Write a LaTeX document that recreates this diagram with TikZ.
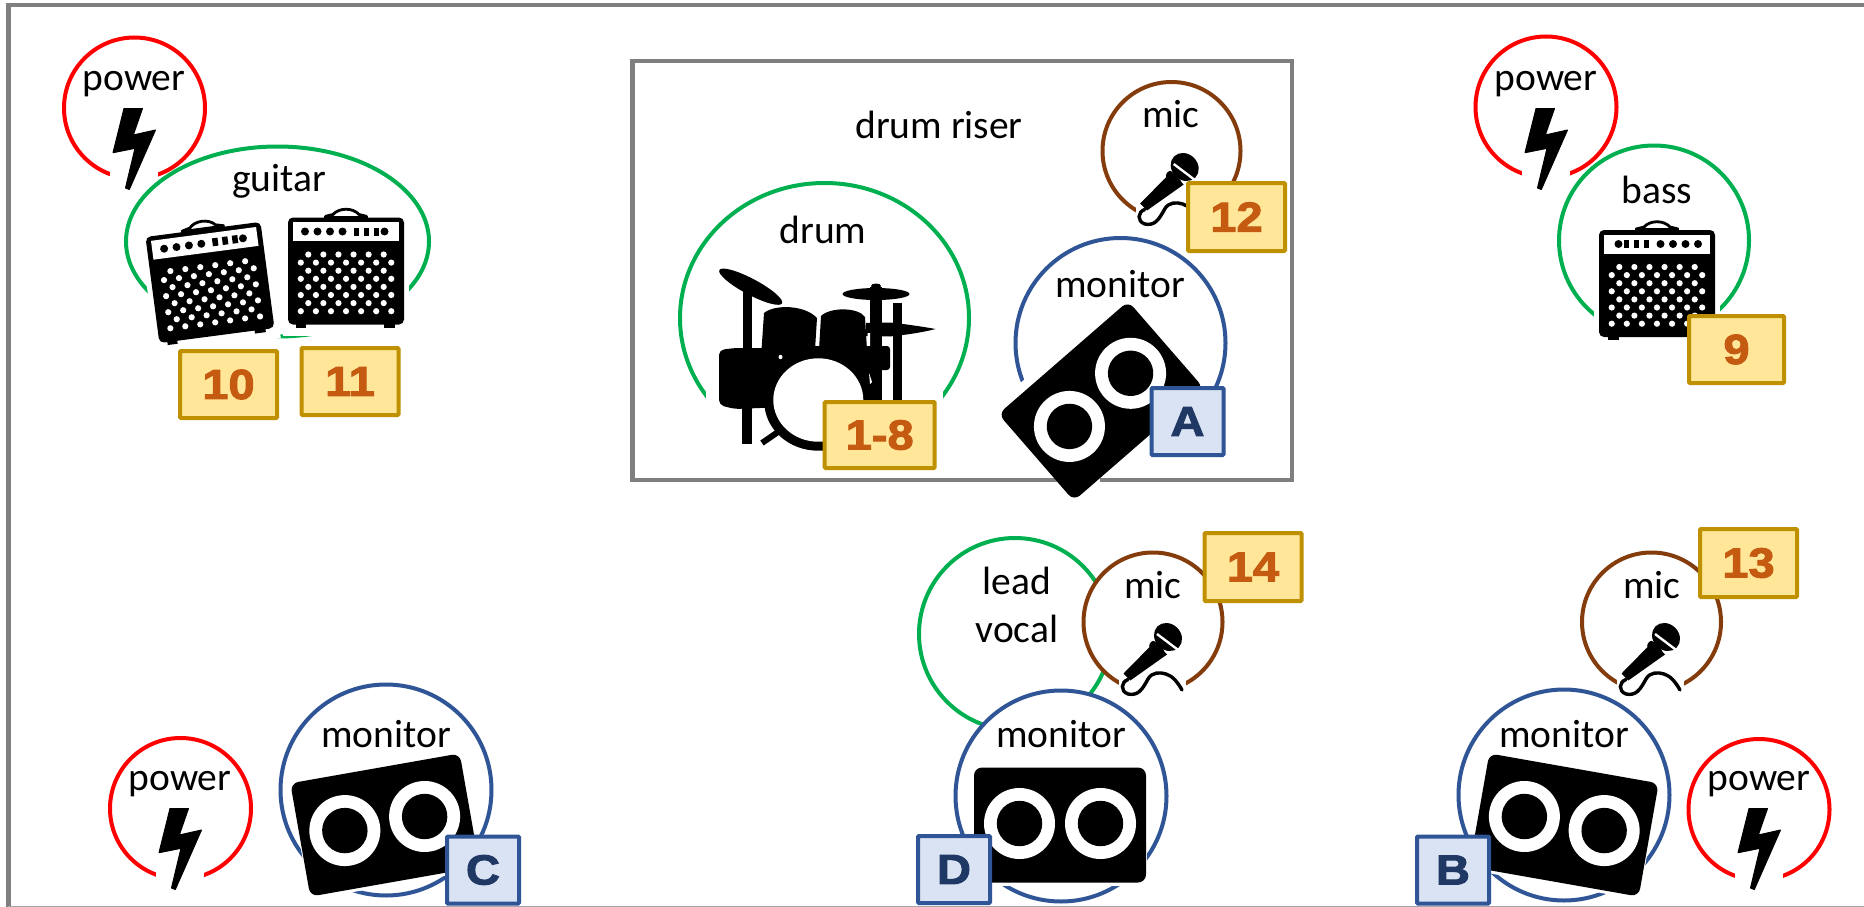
\documentclass[tikz,border=0pt]{standalone}
\usepackage{fontspec}
\setmainfont{Carlito}
\newfontfamily\badgefont[BoldFeatures={FakeBold=2.4,FakeStretch=1.12}]{Liberation Sans}
\definecolor{ggreen}{HTML}{00B050}
\definecolor{gred}{HTML}{FF0000}
\definecolor{gbrown}{HTML}{843C0C}
\definecolor{gblue}{HTML}{2F5597}
\definecolor{gframe}{HTML}{7F7F7F}
\definecolor{yfill}{HTML}{FFE699}
\definecolor{yline}{HTML}{BF9000}
\definecolor{ytext}{HTML}{C55A11}
\definecolor{bfill}{HTML}{DAE3F3}
\definecolor{btext}{HTML}{203864}
\tikzset{
  x=1pt,y=-1pt,
  lab/.style={anchor=base,inner sep=0pt,font=\fontsize{39.5}{47}\selectfont,text=black},
  ringg/.style={draw=ggreen,line width=4pt},
  ringr/.style={draw=gred,line width=4pt},
  ringb/.style={draw=gbrown,line width=4pt,fill=white},
  ringm/.style={draw=gblue,line width=4pt,fill=white},
  ybadge/.style={rectangle,draw=yline,fill=yfill,line width=4pt,rounded corners=1pt,inner sep=0pt,
    text=ytext,font=\badgefont\bfseries\fontsize{42}{42}\selectfont},
  bbadge/.style={rectangle,draw=gblue,fill=bfill,line width=4pt,rounded corners=1pt,inner sep=0pt,
    text=btext,font=\badgefont\bfseries\fontsize{42}{42}\selectfont},
  maskw/.style={fill=white,draw=none},
  ink/.style={fill=black,draw=none},
}
% lightning bolt centred at (#1,#2)
\newcommand{\boltmask}[2]{\fill[maskw] (#1-24,#2-46) rectangle (#1+24,#2+44);}
\newcommand{\boltshape}[2]{%
  \begin{scope}[shift={(#1,#2)}]
    \fill[black,draw=black,line width=1pt,line join=round]
      (-10,-40.5) -- (8.5,-40.5) -- (-0.7,-14) -- (21.5,-19) -- (-4.7,40.5) -- (-8.5,39) -- (1,-0.7) -- (-21,3.7) -- cycle;
  \end{scope}}
% power group: ring centre, bolt centre, label baseline
\newcommand{\powergroup}[6]{%
  \draw[ringr] (#1,#2) circle[radius=70.5];
  \boltmask{#3}{#4}\boltshape{#3}{#4}
  \node[lab] (#6) at (#3,#5) {power};}
% guitar amp
\newcommand{\ampmask}[3]{%
  \begin{scope}[shift={(#1,#2)},rotate=#3]
    \fill[maskw] (-63,-70) rectangle (63,64);
  \end{scope}}
\newcommand{\ampshape}[4]{%
  \begin{scope}[shift={(#1,#2)},rotate=#3,xscale=#4]
    \fill[black,rounded corners=5pt] (-58,-54) rectangle (58,53);
    \fill[black] (-50,52) rectangle (-40,56);
    \fill[black] (38,52) rectangle (49,56);
    \fill[black] (-22,-56) rectangle (22,-52);
    \draw[black,line width=2.8pt] (-21,-55) -- (-13,-57) .. controls (-7,-64) and (7,-64) .. (13,-57) -- (21,-55);
    \fill[white] (-53,-49.5) rectangle (53,-30.5);
    \foreach \kx in {-41,-28.5,-16,-3.5,38.5} {\fill[black] (\kx,-40) circle[radius=4];}
    \foreach \kx in {10.5,20.5,30.5} {\fill[black] (\kx-2.8,-44) rectangle (\kx+2.8,-36);}
    \foreach \r in {0,2,4,6} {\foreach \c in {0,...,5} {\fill[white] (-37.7+15.08*\c,-17+8.1*\r) circle[radius=3.1];}}
    \foreach \r in {1,3,5,7} {\foreach \c in {0,...,6} {\fill[white] (-45.2+15.08*\c,-17+8.1*\r) circle[radius=3.1];}}
  \end{scope}}
% microphone, head centre (#1,#2)
\newcommand{\micmask}[2]{\fill[maskw] (#1-49,#2-17) rectangle (#1+17.5,#2+63);}
\newcommand{\micshape}[2]{%
  \begin{scope}[shift={(#1,#2)}]
    \fill[black] (-13.5,5) -- (-1,17.5) -- (-37.7,43.5) -- (-44.5,36.5) -- cycle;
    \fill[black,rotate=-45] (0,0) ellipse[x radius=15,y radius=13];
    \fill[black,rounded corners=3pt] (-15,2.5) -- (-2,15.5) -- (-8,21) -- (-20,9) -- cycle;
    \draw[white,line width=2.4pt] (-11,-3) -- (9.5,12.5);
    \draw[black,line width=3.4pt,line cap=round] (-40,42.5) .. controls (-47,45) and (-48,54) .. (-40,57)
      .. controls (-30,59) and (-26,53) .. (-20,42) .. controls (-16,35) and (-8,35) .. (-2,37)
      .. controls (5,39) and (10,46) .. (14,53);
  \end{scope}}
% stage monitor
\newcommand{\monmask}[5]{%
  \begin{scope}[shift={(#1,#2)},rotate=#3]
    \fill[maskw] (-86-#4,-57.5-#5) rectangle (86+#4,57.5+#5);
  \end{scope}}
\newcommand{\monshape}[3]{%
  \begin{scope}[shift={(#1,#2)},rotate=#3]
    \fill[black,rounded corners=8pt] (-86,-57.5) rectangle (86,57.5);
    \foreach \sx in {-40.5,40.5} {
      \fill[white] (\sx,-1.5) circle[radius=35.5];
      \fill[black] (\sx,-1.5) circle[radius=22.7];}
  \end{scope}}
\begin{document}
\begin{tikzpicture}
\useasboundingbox (0,0) rectangle (1864,907);
\fill[white] (0,0) rectangle (1864,907);
% outer frame
\draw[gframe,line width=4pt] (1864,5) -- (6,5);
\draw[gframe,line width=5pt] (8.5,3) -- (8.5,907);
\draw[gframe!70,line width=2pt] (8,906.5) -- (1864,906.5);
\node[lab] (riser) at (939,138) {drum riser};

% power top left + guitar
\powergroup{134.5}{108}{134}{149}{90}{powerA}
\draw[ringg] (277.5,241.5) ellipse[x radius=151.5,y radius=95];
\ampmask{210}{283}{7.5}
\ampmask{346}{271.5}{0}
\node[lab] (guitar) at (279,191) {guitar};
\ampshape{210}{283}{7.5}{1}
\ampshape{346}{271.5}{0}{1}

% power top right + bass
\powergroup{1546}{107}{1546}{149}{90}{powerB}
\draw[ringg] (1654,240.5) circle[radius=95];
\ampmask{1657}{284}{0}
\node[lab] (bass) at (1657,203) {bass};
\ampshape{1657}{284}{0}{-1}

% drum
\draw[ringg] (824.5,318) ellipse[x radius=144.5,y radius=135];
\fill[maskw] (706,250) rectangle (943,470);
\node[lab] (drum) at (823,243) {drum};
\begin{scope}
  \fill[ink,rotate around={-28:(750.7,286.7)}] (750.7,286.7) ellipse[x radius=35.5,y radius=8];
  \fill[ink] (742.7,290) rectangle (751.7,350);
  \fill[ink] (741.7,405) rectangle (751.7,444);
  \fill[ink] (870,287) rectangle (881.7,403);
  \fill[ink] (892.7,302.7) rectangle (901.7,403);
  \fill[ink] (876,294) ellipse[x radius=33.5,y radius=6];
  \fill[ink] (876,286) ellipse[x radius=5,y radius=2.5];
  \fill[ink] (866,323) -- (890,322.5) .. controls (905,324) and (925,327) .. (935.5,329)
     .. controls (925,332) and (905,335) .. (890,336.5) -- (866,336) -- cycle;
  % toms
  \fill[ink] (761.5,350) -- (764,313) .. controls (775,304) and (805,305) .. (817,318) -- (815,350) -- cycle;
  \fill[ink] (819,350) -- (821,316) .. controls (830,307) and (858,307) .. (865,317) -- (867,350) -- cycle;
  % floor tom
  \fill[ink,rounded corners=5pt] (719,350) -- (735,348) -- (785,348) -- (785,407) -- (735,409) -- (719,405) -- cycle;
  % middle block
  \fill[ink] (761.5,346) rectangle (880,372);
  \fill[ink,rounded corners=3pt] (860,346) rectangle (890,370);
  % bass drum
  \fill[ink] (818.3,401.7) ellipse[x radius=54,y radius=49];
  \fill[ink] (861,372) rectangle (880,403);
  \fill[white] (818.3,400) ellipse[x radius=45,y radius=41.7];
  \draw[black,line width=6pt] (762,443) -- (778,432);
  \fill[white] (867.5,333) -- (870,333) -- (870,345) -- (868.5,345) -- cycle;
  \fill[white] (869,373) -- (872,382) -- (870,384) -- cycle;
  \fill[white] (780.5,357) ellipse[x radius=2,y radius=2.2];
\end{scope}

% riser mic
\draw[ringb] (1171.5,151) circle[radius=69];
\micmask{1184.7}{167}
\node[lab] (micA) at (1171,127) {mic};
\micshape{1184.7}{167}

% riser monitor A
\draw[ringm] (1120.5,343) circle[radius=105];
\monmask{1101}{401}{41}{6}{9}
% drum riser frame
\draw[gframe,line width=4.4pt] (632.5,61) rectangle (1292,480);
\fill[white] (1060,476) rectangle (1100,484);
\node[lab] (monA) at (1120,297) {monitor};
\monshape{1101}{401}{41}

% lead vocal
\draw[ringg] (1015,634) circle[radius=96];
\node[lab,align=center] (leadA) at (1017,594) {lead};
\node[lab,align=center] (leadB) at (1017,642) {vocal};
\draw[ringb] (1153,622) circle[radius=69.5];
\micmask{1168}{637}
\node[lab] (micB) at (1153,598) {mic};
\micshape{1168}{637}
\draw[ringm] (1061,796) circle[radius=105.5];
\monmask{1060}{825}{0}{1}{3}
\node[lab] (monD) at (1061,747) {monitor};
\monshape{1060}{825}{0}

% right vocal
\draw[ringb] (1651.5,622) circle[radius=69.5];
\micmask{1666}{637}
\node[lab] (micC) at (1652,598) {mic};
\micshape{1666}{637}
\draw[ringm] (1564,795) circle[radius=105.5];
\monmask{1564}{825}{-10}{1}{3}
\node[lab] (monB) at (1564,747) {monitor};
\monshape{1564}{825}{-10}
\powergroup{1759}{809.5}{1759}{849}{790}{powerD}

% bottom left
\powergroup{180.5}{808.5}{180}{849}{790}{powerC}
\draw[ringm] (386,790) circle[radius=105.5];
\monmask{385}{825}{10}{1}{3}
\node[lab] (monC) at (386,747) {monitor};
\monshape{385}{825}{10}

% badges
\node[ybadge,minimum width=97pt,minimum height=67pt] (b10) at (228.5,384.5) {10};
\node[ybadge,minimum width=97pt,minimum height=67pt] (b11) at (350,381.5) {11};
\node[ybadge,minimum width=95pt,minimum height=67pt] (b9) at (1736.5,349.5) {9};
\node[ybadge,minimum width=110pt,minimum height=66pt] (b18) at (879.7,435) {1-8};
\node[ybadge,minimum width=97pt,minimum height=68pt] (b12) at (1236.5,217) {12};
\node[ybadge,minimum width=97pt,minimum height=68pt] (b14) at (1253,567) {14};
\node[ybadge,minimum width=97pt,minimum height=68pt] (b13) at (1748.5,563) {13};
\node[bbadge,minimum width=72pt,minimum height=67pt] (bA) at (1187.5,421.5) {A};
\node[bbadge,minimum width=72pt,minimum height=67pt] (bD) at (954,869.5) {D};
\node[bbadge,minimum width=72pt,minimum height=67pt] (bB) at (1453,870) {B};
\node[bbadge,minimum width=72pt,minimum height=67pt] (bC) at (483,870) {C};
\end{tikzpicture}
\end{document}
